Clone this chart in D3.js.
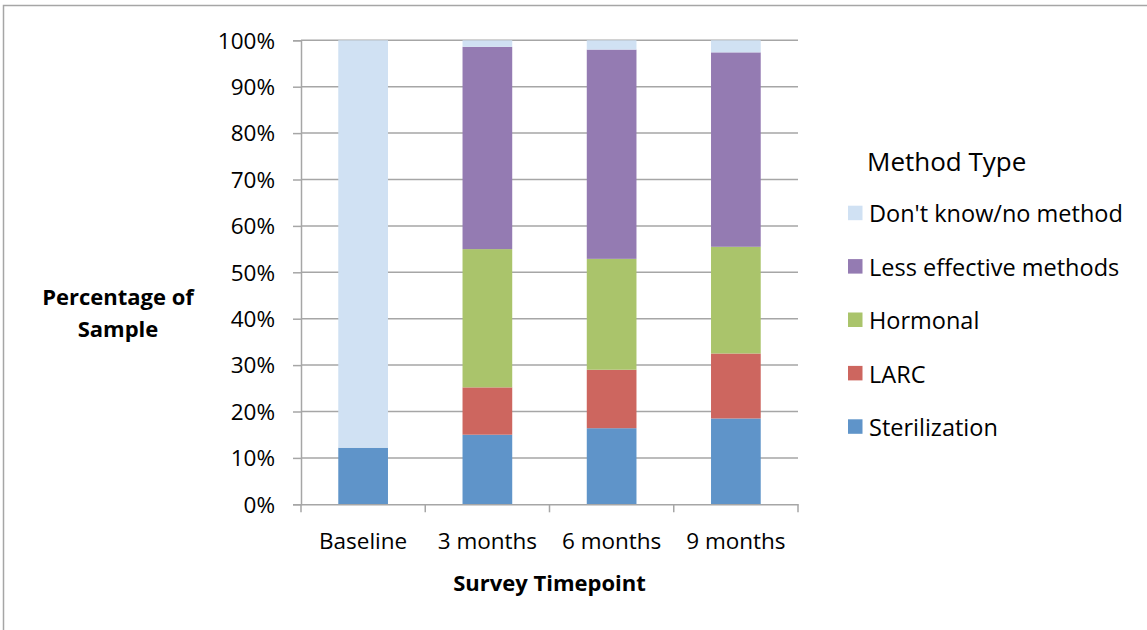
<!DOCTYPE html>
<html>
<head>
<meta charset="utf-8">
<script src="https://cdn.jsdelivr.net/npm/d3@7"></script>
<style>
  body { margin: 0; background: #fff; }
  svg text { font-family: "Open Sans", "Noto Sans", sans-serif; fill: #000; }
</style>
</head>
<body>
<svg id="chart" width="1147" height="630"></svg>
<script>
const timepoints = ["Baseline", "3 months", "6 months", "9 months"];
const methods = ["Sterilization", "LARC", "Hormonal", "Less effective methods", "Don't know/no method"];
const sterilization = [12.2, 15.0, 16.4, 18.5];
const larc = [0, 10.2, 12.6, 14.0];
const hormonal = [0, 29.8, 23.9, 23.0];
const lessEffective = [0, 43.6, 45.1, 41.9];
const dontKnow = [87.8, 1.4, 2.0, 2.6];
const yTicks = [0, 10, 20, 30, 40, 50, 60, 70, 80, 90, 100];
const colors = ["#5f94c9", "#cd665f", "#aac46b", "#947bb2", "#d0e1f3"];

const series = [sterilization, larc, hormonal, lessEffective, dontKnow];
const rows = timepoints.map((t, i) => {
  const r = { timepoint: t };
  methods.forEach((m, k) => { r[m] = series[k][i]; });
  return r;
});

const svg = d3.select("#chart");
const plot = { left: 301, right: 798, top: 40.3, bottom: 504.3 };

// outer frame
svg.append("rect")
  .attr("x", 3.5).attr("y", 5.5)
  .attr("width", 1160).attr("height", 640)
  .attr("fill", "none").attr("stroke", "#a6a6a6").attr("stroke-width", 1.5);

const x = d3.scaleBand().domain(timepoints).range([plot.left, plot.right]).padding(0);
const y = d3.scaleLinear().domain([0, 100]).range([plot.bottom, plot.top]);

// gridlines
svg.append("g")
  .selectAll("line")
  .data(yTicks.filter(d => d > 0))
  .join("line")
  .attr("x1", plot.left).attr("x2", plot.right)
  .attr("y1", d => y(d)).attr("y2", d => y(d))
  .attr("stroke", "#a6a6a6").attr("stroke-width", 1.5);

// stacked bars
const stack = d3.stack().keys(methods)(rows);
const barW = x.bandwidth() * 0.4;
svg.append("g")
  .selectAll("g")
  .data(stack)
  .join("g")
  .attr("fill", (d, i) => colors[i])
  .selectAll("rect")
  .data(d => d)
  .join("rect")
  .attr("x", d => x(d.data.timepoint) + (x.bandwidth() - barW) / 2)
  .attr("y", d => y(d[1]))
  .attr("width", barW)
  .attr("height", d => y(d[0]) - y(d[1]));

// y axis
const yAxis = svg.append("g")
  .attr("transform", `translate(${plot.left},0)`)
  .call(d3.axisLeft(y).tickValues(yTicks).tickFormat(d => d + "%").tickSize(8).tickPadding(18));
yAxis.select(".domain").attr("stroke", "#a6a6a6").attr("stroke-width", 1.5);
yAxis.selectAll(".tick line").attr("stroke", "#a6a6a6").attr("stroke-width", 1.5);
yAxis.selectAll("text").style("font-size", "22.5px").attr("dy", "0.35em");

// x axis
const xAxis = svg.append("g")
  .attr("transform", `translate(0,${plot.bottom})`)
  .call(d3.axisBottom(x).tickSize(0).tickPadding(29));
xAxis.select(".domain").attr("stroke", "#a6a6a6").attr("stroke-width", 1.5);
xAxis.selectAll("text").style("font-size", "22.5px");
svg.append("g")
  .selectAll("line")
  .data(d3.range(timepoints.length + 1))
  .join("line")
  .attr("x1", i => plot.left + i * x.step()).attr("x2", i => plot.left + i * x.step())
  .attr("y1", plot.bottom).attr("y2", plot.bottom + 8)
  .attr("stroke", "#a6a6a6").attr("stroke-width", 1.5);

// axis titles
svg.append("text")
  .attr("x", (plot.left + plot.right) / 2).attr("y", 591)
  .attr("text-anchor", "middle")
  .style("font-size", "22px").style("font-weight", "bold")
  .text("Survey Timepoint");

const yTitle = svg.append("text")
  .attr("text-anchor", "middle")
  .style("font-size", "22px").style("font-weight", "bold");
yTitle.append("tspan").attr("x", 118).attr("y", 305).text("Percentage of");
yTitle.append("tspan").attr("x", 118).attr("y", 337).text("Sample");

// legend
const legend = svg.append("g");
legend.append("text")
  .attr("x", 867).attr("y", 171)
  .style("font-size", "26px")
  .text("Method Type");
const legendOrder = methods.slice().reverse();
const item = legend.selectAll(".item")
  .data(legendOrder)
  .join("g")
  .attr("class", "item")
  .attr("transform", (d, i) => `translate(848,${205.7 + i * 53.4})`);
item.append("rect")
  .attr("width", 14.5).attr("height", 14.5)
  .attr("fill", d => colors[methods.indexOf(d)]);
item.append("text")
  .attr("x", 21).attr("y", 8.5).attr("dy", "0.35em")
  .style("font-size", "23.5px")
  .text(d => d);
</script>
</body>
</html>
